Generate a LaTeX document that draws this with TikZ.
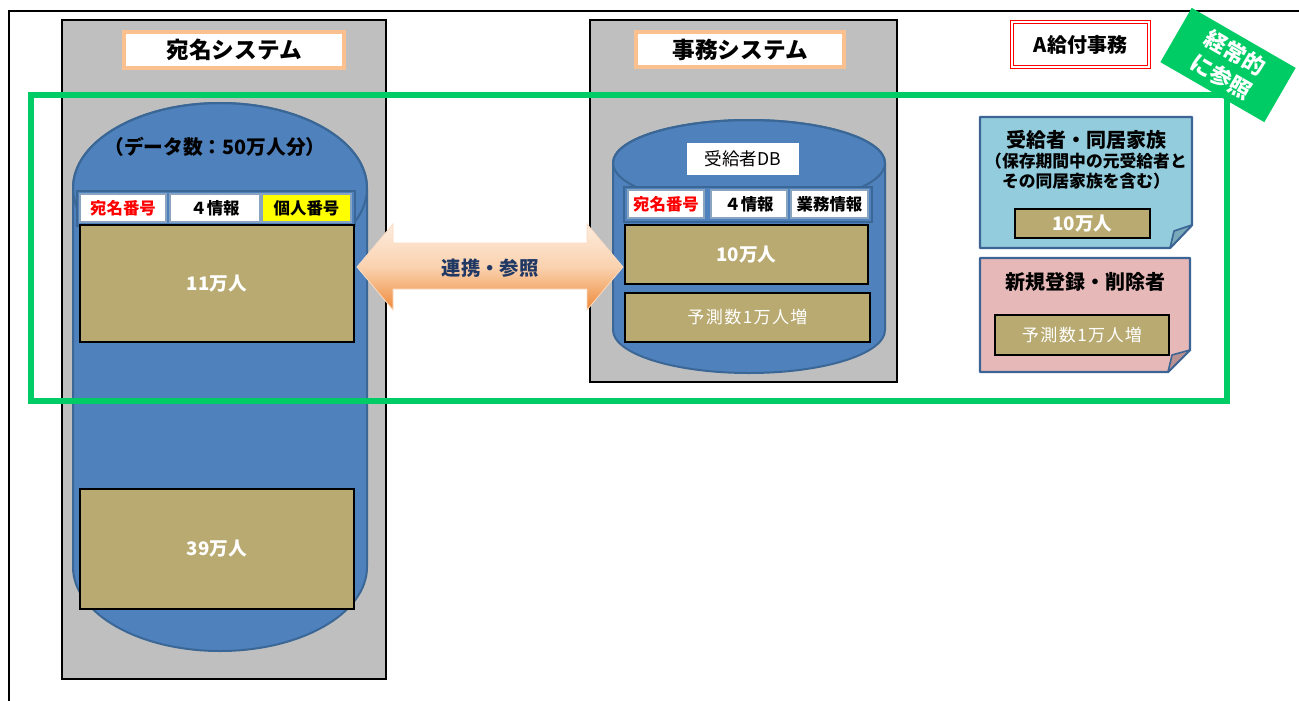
\documentclass[tikz,border=0pt]{standalone}
\usepackage{fontspec}
\setmainfont{Noto Sans CJK JP}
\usetikzlibrary{fit,shadows,calc}
\definecolor{sysgray}{HTML}{BFBFBF}
\definecolor{cylfill}{HTML}{4F81BD}
\definecolor{cyldraw}{HTML}{3A6796}
\definecolor{tanc}{HTML}{B9AA71}
\definecolor{lblorange}{HTML}{FAC090}
\definecolor{grn}{HTML}{00CC66}
\definecolor{navy}{HTML}{1F3864}
\definecolor{notebl}{HTML}{93CDDD}
\definecolor{notepk}{HTML}{E6B9B8}
\definecolor{noteedge}{HTML}{3C6494}
\definecolor{foldbl}{HTML}{78AAB9}
\definecolor{foldpk}{HTML}{B99191}
\definecolor{cellyel}{HTML}{FFFF00}
\newcommand\fsz[1]{\fontsize{#1}{#1}\selectfont}
\tikzset{
  sysbox/.style={draw=black, line width=1.3pt, fill=sysgray, inner sep=0},
  lbl/.style={fill=white, draw=lblorange, line width=2.8pt, inner sep=0,
    drop shadow={opacity=0.3, shadow xshift=1.2pt, shadow yshift=-1.5pt}},
  cylbody/.style={fill=cylfill, draw=cyldraw, line width=1.5pt},
  strip/.style={fill=cylfill, draw=cyldraw, line width=1.5pt, inner sep=0},
  cell/.style={fill=white, draw=cyldraw!60, line width=0.8pt, inner sep=0},
  tanbox/.style={fill=tanc, draw=black, line width=0.9pt, inner sep=0},
  note/.style={draw=noteedge, line width=1.8pt, line join=round},
  fold/.style={draw=noteedge, line width=1.2pt, line join=round},
  frame/.style={draw=grn, line width=5.2pt, inner sep=0},
  plain/.style={inner sep=0, align=center},
  lbltext/.style={font=\bfseries\fsz{17}},
  celltext/.style={font=\bfseries\fsz{12.3}},
  tantext/.style={text=white, font=\bfseries\fsz{14}},
  tanlighttext/.style={text=white, font=\fsz{12.8}\addfontfeature{LetterSpace=8}},
}
\begin{document}
\begin{tikzpicture}[x=0.75pt, y=-0.75pt]
\useasboundingbox (0,0) rectangle (1299,700);
\fill[white] (0,0) rectangle (1299,700);
% outer frame (partly outside the page)
\coordinate (ofbl) at (9,740);
\coordinate (oftl) at (9,11);
\coordinate (oftr) at (1340,11);
\draw[line width=1.3pt] (ofbl) -- (oftl) -- (oftr);

% ---------- left system ----------
\node[sysbox, fit={(62,20) (386,679)}] (sysL) {};
\node[lbl, fit={(124,32) (344,68)}] (lblL) {};
\node[lbltext] at (lblL.center) (lblLt) {宛名システム};

\path[cylbody] (73,188) -- (73,567) arc[start angle=180, end angle=0, x radius=147, y radius=84]
  -- (367,188) arc[start angle=0, end angle=-180, x radius=147, y radius=85] -- cycle;
\draw[cyldraw, line width=1.5pt] (220,188) ellipse[x radius=147, y radius=85];
\node[plain, font=\bfseries\fsz{14.8}] (cntL) at (215,147) {（データ数：50万人分）};

\node[strip, fit={(77,191) (355,226)}] (stripL) {};
\node[cell, fit={(80,194) (166,222)}] (c1L) {};
\node[celltext, text=red] at (c1L.center) {宛名番号};
\node[cell, fit={(170,194) (260,222)}] (c2L) {};
\node[celltext] at (c2L.center) {４情報};
\node[cell, fit={(262,194) (351,222)}, fill=cellyel] (c3L) {};
\node[celltext] at (c3L.center) {個人番号};

\node[tanbox, fit={(80,225) (354,342)}] (b11) {};
\node[tantext] at (b11.center) {11万人};
\node[tanbox, fit={(80,489) (354,609)}] (b39) {};
\node[tantext] at (b39.center) {39万人};

% ---------- middle system ----------
\node[sysbox, fit={(590,20) (897,382)}] (sysM) {};
\node[lbl, fit={(636,32) (844,67)}] (lblM) {};
\node[lbltext] at (lblM.center) (lblMt) {事務システム};

\path[cylbody] (613,163) -- (613,330) arc[start angle=180, end angle=0, x radius=136, y radius=43]
  -- (885,163) arc[start angle=0, end angle=-180, x radius=136, y radius=43] -- cycle;
\draw[cyldraw, line width=1.5pt] (749,163) ellipse[x radius=136, y radius=43];
\node[fill=white, inner sep=0, fit={(687,143) (799,175)}] (dbl) {};
\node at (dbl.center) [font=\fsz{13.2}] {受給者DB};

\node[strip, fit={(624,187) (872,222)}] (stripM) {};
\node[cell, fit={(628,190) (704,218)}] (c1M) {};
\node[celltext, text=red] at (c1M.center) {宛名番号};
\node[cell, fit={(711,190) (787,218)}] (c2M) {};
\node[celltext] at (c2M.center) {４情報};
\node[cell, fit={(791,190) (868,218)}] (c3M) {};
\node[celltext] at (c3M.center) {業務情報};

\node[tanbox, fit={(625,225) (868,284)}] (b10) {};
\node[tantext] at (b10.center) {10万人};
\node[tanbox, fit={(625,293) (870,342)}] (bpr) {};
\node[tanlighttext] at (bpr.center) {予測数1万人増};

% ---------- double arrow ----------
\coordinate (arL) at (357,267);
\coordinate (arR) at (623,267);
\path[top color={rgb,255:red,253;green,236;blue,222}, bottom color={rgb,255:red,238;green,138;blue,58},
  middle color={rgb,255:red,250;green,210;blue,175}, draw={rgb,255:red,250;green,220;blue,195}, line width=0.6pt]
  (arL) -- (393,224) -- (393,243) -- (587,243) -- (587,224) -- (arR) -- (587,310) -- (587,289)
  -- (393,289) -- (393,310) -- cycle;
\node[plain, text=navy, font=\bfseries\fsz{14.5}] (art) at (490,268) {連携・参照};

% ---------- right side ----------
\node[fill=white, draw=red, double=white, double distance=1.8pt, line width=0.7pt, inner sep=0,
  fit={(1012,22) (1149,67)}] (ak) {};
\node at (ak.center) [font=\bfseries\fsz{15}] {A給付事務};

\path[note, fill=notebl] (980,117) -- (1192,117) -- (1192,225) -- (1170,248) -- (980,248) -- cycle;
\path[fold, fill=foldbl] (1192,225) -- (1170,248) -- (1174,231) -- cycle;
\node[plain, font=\bfseries\fsz{15}] (n1t) at (1086,140) {受給者・同居家族};
\node[plain, font=\bfseries\fontsize{12.6}{14.5}\selectfont, align=center] (n1s) at (1086,171)
  {（保存期間中の元受給者と\\その同居家族を含む）};
\node[tanbox, fit={(1015,209) (1150,238)}] (n1b) {};
\node[tantext] at (n1b.center) {10万人};

\path[note, fill=notepk] (980,258) -- (1190,258) -- (1190,350) -- (1168,372) -- (980,372) -- cycle;
\path[fold, fill=foldpk] (1190,350) -- (1168,372) -- (1172,355) -- cycle;
\node[plain, font=\bfseries\fsz{15}] (n2t) at (1085,282) {新規登録・削除者};
\node[tanbox, fit={(995,315) (1169,355)}] (n2b) {};
\node[tanlighttext] at (n2b.center) {予測数1万人増};

% ---------- green frame and tag ----------
\node[frame, fit={(31,95) (1227,401)}] (gframe) {};
\node[fill=grn, rotate=-30, minimum width=90pt, minimum height=47pt, inner sep=0,
  text=white, align=center, font=\bfseries\fontsize{16.5}{20.5}\selectfont] (tag) at (1228,65)
  {経常的\\に参照};
\end{tikzpicture}
\end{document}
